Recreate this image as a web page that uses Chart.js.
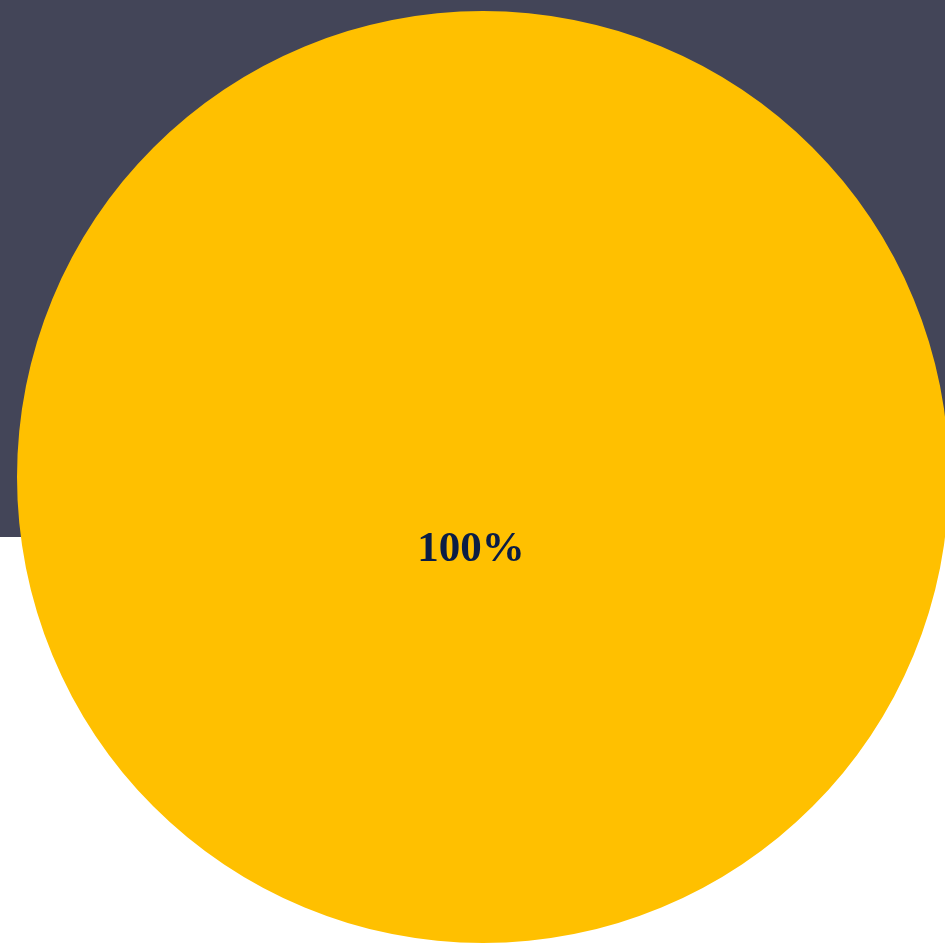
<!DOCTYPE html>
<html>
<head>
<meta charset="utf-8">
<script src="https://cdn.jsdelivr.net/npm/chart.js@4/dist/chart.umd.min.js"></script>
<style>
    html, body { margin: 0; padding: 0; width: 945px; height: 944px; overflow: hidden; background: #ffffff; }
    .band { position: absolute; left: 0; top: 0; width: 945px; height: 537px; background: #434558; }
    #pie { position: absolute; left: 17px; top: 11px; }
</style>
</head>
<body>
<div class="band"></div>
<canvas id="pie" width="932" height="932"></canvas>
<script>
    // Data
    var categories = ["Share"];
    var values = [100];
    var colors = ["#FFC000"];

    // Percent label in the middle of the slice
    var percentLabel = {
        id: "percentLabel",
        afterDatasetsDraw: function (chart) {
            var ctx = chart.ctx;
            var meta = chart.getDatasetMeta(0);
            var total = values.reduce(function (a, b) { return a + b; }, 0);
            meta.data.forEach(function (arc, i) {
                var pct = Math.round(values[i] / total * 100) + "%";
                ctx.save();
                ctx.font = "bold 43px 'Liberation Serif', 'Times New Roman', serif";
                ctx.fillStyle = "#0b1d45";
                ctx.textAlign = "center";
                ctx.textBaseline = "middle";
                ctx.fillText(pct, arc.x - 12, arc.y + 73);
                ctx.restore();
            });
        }
    };

    var ctx = document.getElementById("pie").getContext("2d");
    var myChart = new Chart(ctx, {
        type: "pie",
        data: {
            labels: categories,
            datasets: [{
                data: values,
                backgroundColor: colors,
                borderWidth: 0
            }]
        },
        options: {
            responsive: false,
            animation: false,
            layout: { padding: 0 },
            plugins: {
                legend: { display: false },
                tooltip: { enabled: false }
            }
        },
        plugins: [percentLabel]
    });
</script>
</body>
</html>
